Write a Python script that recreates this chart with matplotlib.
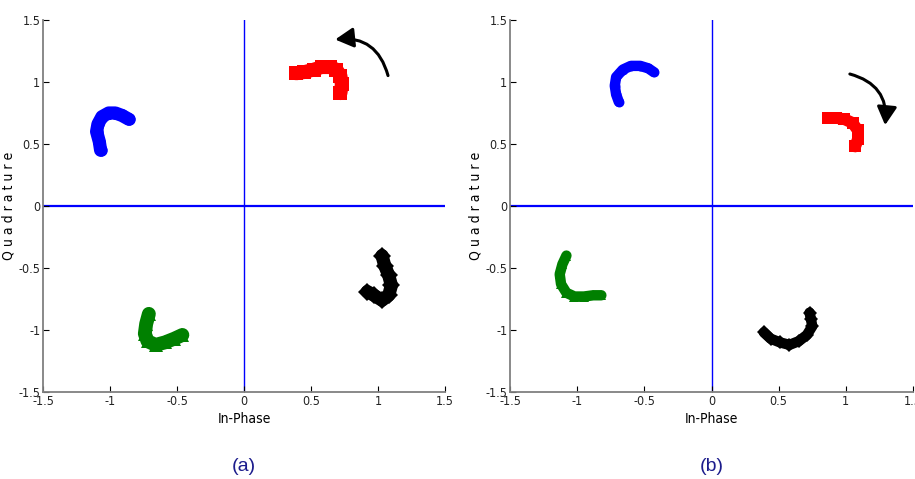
import numpy as np
import matplotlib.pyplot as plt
from matplotlib.patches import FancyArrowPatch
from matplotlib import font_manager

# Constellation trajectories (centre lines of each symbol cluster), panel (a)
a_blue_i = [-1.07, -1.08, -1.10, -1.09, -1.06, -1.01, -0.96, -0.91, -0.86]
a_blue_q = [0.45, 0.52, 0.60, 0.66, 0.72, 0.75, 0.75, 0.73, 0.70]
a_red_i = [0.39, 0.45, 0.52, 0.58, 0.64, 0.69, 0.72, 0.73, 0.72]
a_red_q = [1.07, 1.08, 1.10, 1.12, 1.12, 1.10, 1.05, 0.98, 0.91]
a_green_i = [-0.71, -0.73, -0.74, -0.72, -0.66, -0.59, -0.52, -0.46]
a_green_q = [-0.87, -0.95, -1.03, -1.09, -1.12, -1.10, -1.07, -1.04]
a_black_i = [1.03, 1.05, 1.08, 1.10, 1.08, 1.03, 0.97, 0.92]
a_black_q = [-0.40, -0.48, -0.56, -0.64, -0.72, -0.76, -0.72, -0.69]

# panel (b)
b_blue_i = [-0.69, -0.71, -0.72, -0.71, -0.66, -0.60, -0.53, -0.47, -0.43]
b_blue_q = [0.84, 0.90, 0.97, 1.04, 1.10, 1.13, 1.13, 1.11, 1.08]
b_red_i = [0.87, 0.93, 0.99, 1.05, 1.09, 1.09, 1.07]
b_red_q = [0.71, 0.71, 0.70, 0.67, 0.61, 0.54, 0.48]
b_green_i = [-1.08, -1.11, -1.13, -1.12, -1.08, -1.02, -0.95, -0.88, -0.82]
b_green_q = [-0.40, -0.47, -0.55, -0.63, -0.70, -0.73, -0.73, -0.72, -0.72]
b_black_i = [0.39, 0.44, 0.51, 0.58, 0.65, 0.71, 0.75, 0.74, 0.73]
b_black_q = [-1.02, -1.07, -1.10, -1.12, -1.09, -1.04, -0.97, -0.91, -0.86]

# rotation arrows (tail, head)
a_arrow = [(1.08, 1.03), (0.66, 1.34)]
b_arrow = [(1.01, 1.07), (1.29, 0.63)]

ticks = [-1.5, -1, -0.5, 0, 0.5, 1, 1.5]
tick_labels = ["-1.5", "-1", "-0.5", "0", "0.5", "1", "1.5"]

# narrow face for the axis text
cond = font_manager.FontProperties(family="DejaVu Sans", stretch="condensed")

fig = plt.figure(figsize=(9.15, 4.79), dpi=100)
ax1 = fig.add_axes([43 / 915, 87 / 479, 402 / 915, 372 / 479])
ax2 = fig.add_axes([510 / 915, 87 / 479, 403 / 915, 372 / 479])


def draw_cluster(ax, xs, ys, color, marker, width):
    ax.plot(xs, ys, color=color, lw=width, solid_capstyle="round",
            solid_joinstyle="round", zorder=3)
    ax.plot(xs, ys, ls="none", marker=marker, color=color, ms=width * 0.95,
            mew=0, zorder=3)


def setup(ax, label):
    ax.set_xlim(-1.5, 1.5)
    ax.set_ylim(-1.5, 1.5)
    ax.axhline(0, color="#0000ff", lw=1.6, zorder=1)
    ax.axvline(0, color="#0000ff", lw=1.0, zorder=1)
    for s in ["top", "right"]:
        ax.spines[s].set_visible(False)
    for s in ["left", "bottom"]:
        ax.spines[s].set_color("#808080")
        ax.spines[s].set_linewidth(1.3)
    ax.set_xticks(ticks)
    ax.set_xticklabels(tick_labels)
    ax.set_yticks(ticks)
    ax.set_yticklabels(tick_labels)
    ax.tick_params(direction="in", length=4, width=0.8, pad=2)
    for t in ax.get_xticklabels() + ax.get_yticklabels():
        t.set_fontproperties(cond)
        t.set_fontsize(9)
        t.set_color("#222222")
    ax.set_xlabel("In-Phase", fontproperties=cond, fontsize=10, labelpad=3)
    ax.set_ylabel("Q u a d r a t u r e", fontproperties=cond, fontsize=10, labelpad=2)
    ax.text(0.5, -0.2, label, transform=ax.transAxes, ha="center", va="center",
            fontsize=14, color="#1c1c8c", family="Liberation Sans")


setup(ax1, "(a)")
setup(ax2, "(b)")

draw_cluster(ax1, a_blue_i, a_blue_q, "#0000ff", "o", 9.5)
draw_cluster(ax1, a_red_i, a_red_q, "#ff0000", "s", 10.0)
draw_cluster(ax1, a_green_i, a_green_q, "#008000", "^", 10.0)
draw_cluster(ax1, a_black_i, a_black_q, "#000000", "D", 9.5)

draw_cluster(ax2, b_blue_i, b_blue_q, "#0000ff", "o", 7.5)
draw_cluster(ax2, b_red_i, b_red_q, "#ff0000", "s", 8.5)
draw_cluster(ax2, b_green_i, b_green_q, "#008000", "^", 7.5)
draw_cluster(ax2, b_black_i, b_black_q, "#000000", "D", 7.5)

ax1.add_patch(FancyArrowPatch(a_arrow[0], a_arrow[1], connectionstyle="arc3,rad=0.45",
                              arrowstyle="-|>,head_length=11,head_width=6",
                              color="black", lw=2.2, zorder=4))
ax2.add_patch(FancyArrowPatch(b_arrow[0], b_arrow[1], connectionstyle="arc3,rad=-0.45",
                              arrowstyle="-|>,head_length=11,head_width=6",
                              color="black", lw=2.2, zorder=4))

fig.savefig("out.png", dpi=100)
